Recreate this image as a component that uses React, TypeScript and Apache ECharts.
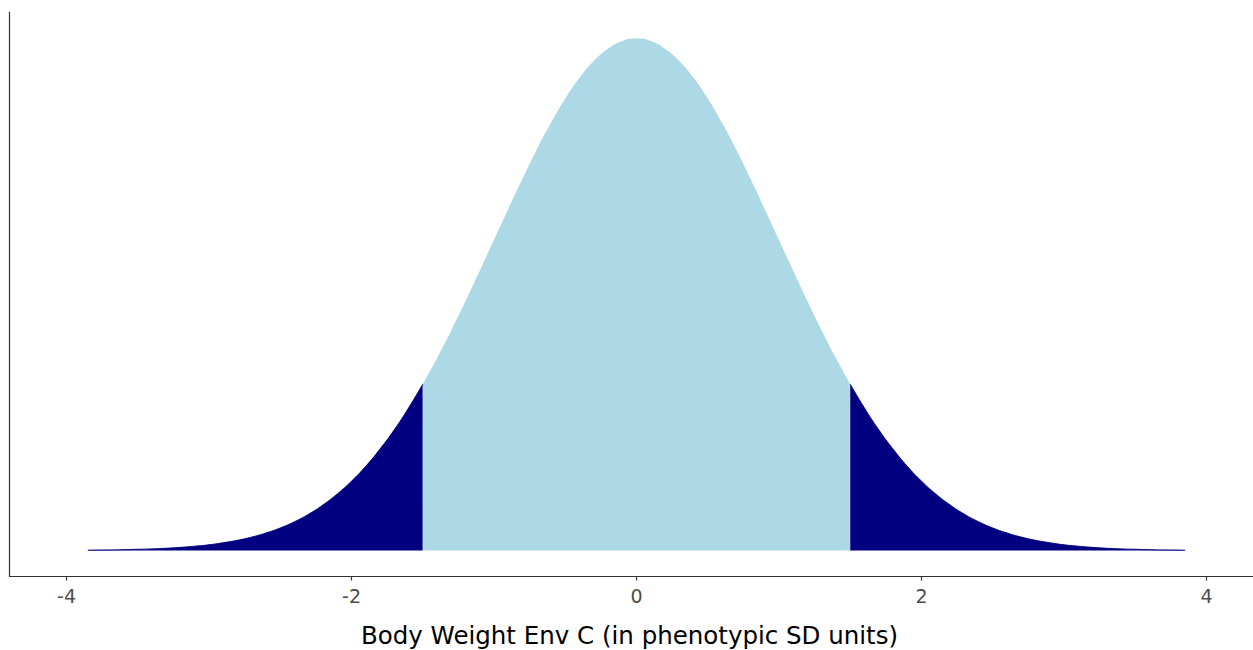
import React, { useEffect, useRef } from "react";
import * as echarts from "echarts";

// x positions (phenotypic SD units) and density values
const xValues = [
  -3.85, -3.8, -3.7, -3.6, -3.5, -3.4, -3.3, -3.2, -3.1, -3.0, -2.9, -2.8, -2.7, -2.6, -2.5, -2.4, -2.3, -2.2, -2.1,
  -2.0, -1.9, -1.8, -1.7, -1.6, -1.5, -1.4, -1.3, -1.2, -1.1, -1.0, -0.9, -0.8, -0.7, -0.6, -0.5, -0.4, -0.3, -0.2,
  -0.1, 0.0, 0.1, 0.2, 0.3, 0.4, 0.5, 0.6, 0.7, 0.8, 0.9, 1.0, 1.1, 1.2, 1.3, 1.4, 1.5, 1.6, 1.7, 1.8, 1.9, 2.0, 2.1,
  2.2, 2.3, 2.4, 2.5, 2.6, 2.7, 2.8, 2.9, 3.0, 3.1, 3.2, 3.3, 3.4, 3.5, 3.6, 3.7, 3.8, 3.85,
];
const density = [
  0.0002, 0.0003, 0.0004, 0.0006, 0.0009, 0.0012, 0.0017, 0.0024, 0.0033, 0.0044, 0.006, 0.0079, 0.0104, 0.0136,
  0.0175, 0.0224, 0.0283, 0.0355, 0.044, 0.054, 0.0656, 0.079, 0.094, 0.1109, 0.1295, 0.1497, 0.1714, 0.1942, 0.2179,
  0.242, 0.2661, 0.2897, 0.3123, 0.3332, 0.3521, 0.3683, 0.3814, 0.391, 0.397, 0.3989, 0.397, 0.391, 0.3814, 0.3683,
  0.3521, 0.3332, 0.3123, 0.2897, 0.2661, 0.242, 0.2179, 0.1942, 0.1714, 0.1497, 0.1295, 0.1109, 0.094, 0.079, 0.0656,
  0.054, 0.044, 0.0355, 0.0283, 0.0224, 0.0175, 0.0136, 0.0104, 0.0079, 0.006, 0.0044, 0.0033, 0.0024, 0.0017, 0.0012,
  0.0009, 0.0006, 0.0004, 0.0003, 0.0002,
];
const lowerCut = -1.5;
const upperCut = 1.5;
const xTicks = [-4, -2, 0, 2, 4];
const axisTitle = "Body Weight Env C (in phenotypic SD units)";

const FONT = "DejaVu Sans";

export default function App() {
  const ref = useRef<HTMLDivElement>(null);
  useEffect(() => {
    if (!ref.current) return;
    const chart = echarts.init(ref.current, null, { renderer: "svg" });
    const pts = xValues.map((x, i) => [x, density[i]]);
    const left = pts.filter((p) => p[0] <= lowerCut);
    const mid = pts.filter((p) => p[0] >= lowerCut && p[0] <= upperCut);
    const right = pts.filter((p) => p[0] >= upperCut);
    const tail = (data: number[][]) => ({
      type: "line",
      data,
      showSymbol: false,
      smooth: true,
      lineStyle: { color: "#000080", width: 1 },
      areaStyle: { color: "#000080", opacity: 1, origin: 0 },
      silent: true,
    });
    chart.setOption({
      animation: false,
      backgroundColor: "#ffffff",
      grid: {
        left: 9.5,
        top: 12,
        width: 1254,
        height: 564.5,
        containLabel: false,
        outerBoundsMode: "none",
      },
      xAxis: {
        type: "value",
        min: -4.4,
        max: 4.4,
        splitLine: { show: false },
        axisLine: { show: true, onZero: false, lineStyle: { color: "#333333", width: 1.2 } },
        axisTick: { show: true, length: 4, lineStyle: { color: "#333333", width: 1.2 }, customValues: xTicks },
        axisLabel: {
          customValues: xTicks,
          color: "#4D4D4D",
          fontFamily: FONT,
          fontSize: 19,
          margin: 10,
          formatter: (v: number) => String(v),
        },
        name: axisTitle,
        nameLocation: "middle",
        nameGap: 46,
        nameTextStyle: { color: "#000000", fontFamily: FONT, fontSize: 24.5, padding: [0, 14, 0, 0] },
      },
      yAxis: {
        type: "value",
        min: -0.0203,
        max: 0.4196,
        splitLine: { show: false },
        axisLine: { show: true, onZero: false, lineStyle: { color: "#333333", width: 1.2 } },
        axisTick: { show: false },
        axisLabel: { show: false },
      },
      series: [
        tail(left),
        {
          type: "line",
          data: mid,
          showSymbol: false,
          smooth: true,
          lineStyle: { width: 0 },
          areaStyle: { color: "#ADD8E6", opacity: 1, origin: 0 },
          silent: true,
        },
        tail(right),
      ],
    });
    return () => chart.dispose();
  }, []);
  return (
    <div
      ref={ref}
      style={{ position: "absolute", left: 0, top: 0, width: 1253, height: 650, background: "#fff" }}
    />
  );
}
